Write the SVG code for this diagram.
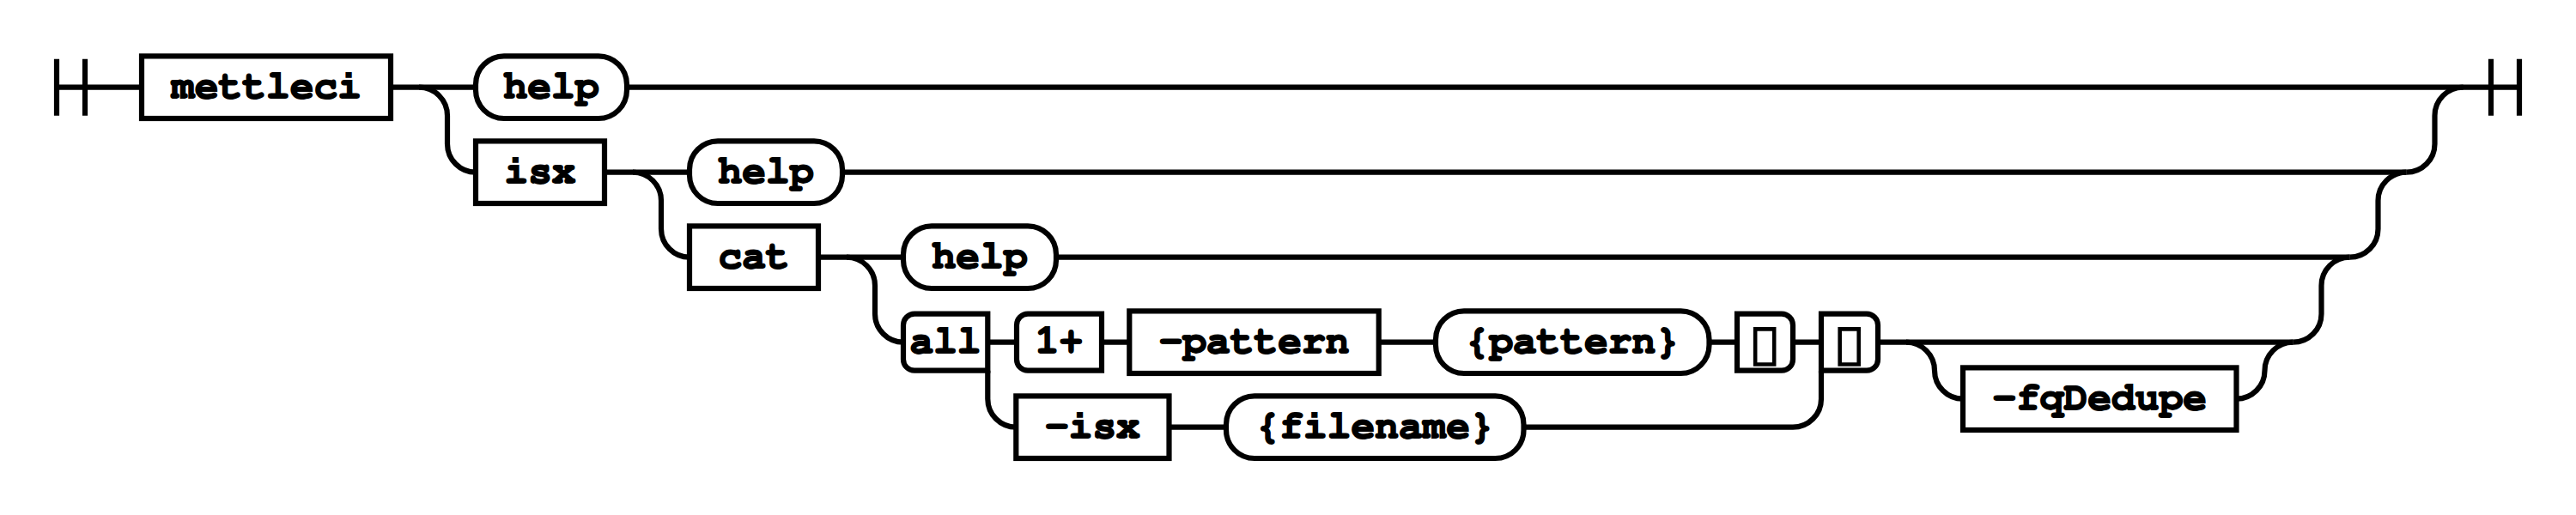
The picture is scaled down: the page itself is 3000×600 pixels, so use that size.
<svg xmlns="http://www.w3.org/2000/svg" width="3000" height="600" viewBox="0 0 3000 600">
<style>
.c{fill:none;stroke:#000;stroke-width:6.2}
.n rect,.n path{fill:#fff;stroke:#000;stroke-width:6.2}
.n text{font-family:"FreeMono","Liberation Mono",monospace;font-weight:bold;font-size:46.2px;text-anchor:middle;fill:#000;stroke:#000;stroke-width:1.8}
.n text.g{font-family:"DejaVu Sans",sans-serif;font-size:50px}
</style>
<rect width="3000" height="600" fill="#fff"/>
<g id="connectors" class="c">
<path d="M66 68.7V134.7M99 68.7V134.7M66 101.7H165"/>
<path d="M2901 68.7V134.7M2934 68.7V134.7M730 101.7H2934"/>
<path d="M455 101.7H554"/>
<path d="M488 101.7A33 33 0 0 1 521 134.7V167.7A33 33 0 0 0 554 200.7"/>
<path d="M704 200.7H803M981 200.7H2802.5"/>
<path d="M737 200.7A33 33 0 0 1 770 233.7V266.7A33 33 0 0 0 803 299.7"/>
<path d="M953 299.7H1052M1230 299.7H2736.5"/>
<path d="M986 299.7A33 33 0 0 1 1019 332.7V365.7A33 33 0 0 0 1052 398.7"/>
<path d="M1150.3 398.7H1184M1283 398.7H1315.3M1605.7 398.7H1672M1990.5 398.7H2023M2088 398.7H2121M2187 398.7H2670.5"/>
<path d="M1150.3 431.7V464.7A33 33 0 0 0 1183.3 497.7"/>
<path d="M1361.5 497.7H1428M1774.5 497.7H2088A33 33 0 0 0 2121 464.7V431.7"/>
<path d="M2220 398.7A33 33 0 0 1 2253 431.7A33 33 0 0 0 2286 464.7"/>
<path d="M2604.5 464.7A33 33 0 0 0 2637.5 431.7A33 33 0 0 1 2670.5 398.7"/>
<path d="M2670.5 398.7A33 33 0 0 0 2703.5 365.7V332.7A33 33 0 0 1 2736.5 299.7"/>
<path d="M2736.5 299.7A33 33 0 0 0 2769.5 266.7V233.7A33 33 0 0 1 2802.5 200.7"/>
<path d="M2802.5 200.7A33 33 0 0 0 2835.5 167.7V134.7A33 33 0 0 1 2868.5 101.7"/>
</g>
<g id="mettleci" class="n"><rect x="165" y="65.4" width="290" height="72.6"/><text x="310" y="114.2">mettleci</text></g>
<g id="help0" class="n"><rect x="554" y="65.4" width="176" height="72.6" rx="33" ry="33"/><text x="642" y="114.2">help</text></g>
<g id="isx" class="n"><rect x="554" y="164.4" width="150" height="72.6"/><text x="629" y="213.2">isx</text></g>
<g id="help1" class="n"><rect x="803" y="164.4" width="178" height="72.6" rx="33" ry="33"/><text x="892" y="213.2">help</text></g>
<g id="cat" class="n"><rect x="803" y="263.4" width="150" height="72.6"/><text x="878" y="312.2">cat</text></g>
<g id="help2" class="n"><rect x="1052" y="263.4" width="178" height="72.6" rx="33" ry="33"/><text x="1141" y="312.2">help</text></g>
<g id="all" class="n"><path d="M1150.3 365.7H1065A13 13 0 0 0 1052 378.7V418.7A13 13 0 0 0 1065 431.7H1150.3Z"/><text x="1101" y="411.2">all</text></g>
<g id="oneplus" class="n"><path d="M1283 365.7H1197A13 13 0 0 0 1184 378.7V418.7A13 13 0 0 0 1197 431.7H1283Z"/><text x="1233.5" y="411.2">1+</text></g>
<g id="pattern-opt" class="n"><rect x="1315.3" y="362.4" width="290.4" height="72.6"/><text x="1460.5" y="411.2">-pattern</text></g>
<g id="pattern-val" class="n"><rect x="1672" y="362.4" width="318.5" height="72.6" rx="33" ry="33"/><text x="1831.2" y="411.2">{pattern}</text></g>
<g id="close1" class="n"><path d="M2023 365.7H2075A13 13 0 0 1 2088 378.7V418.7A13 13 0 0 1 2075 431.7H2023Z"/><text class="g" x="2055.5" y="417">&#xE000;</text></g>
<g id="close2" class="n"><path d="M2121 365.7H2174A13 13 0 0 1 2187 378.7V418.7A13 13 0 0 1 2174 431.7H2121Z"/><text class="g" x="2154" y="417">&#xE000;</text></g>
<g id="isx-opt" class="n"><rect x="1183.3" y="461.4" width="178.2" height="72.6"/><text x="1272.4" y="510.2">-isx</text></g>
<g id="filename" class="n"><rect x="1428" y="461.4" width="346.5" height="72.6" rx="33" ry="33"/><text x="1601.2" y="510.2">{filename}</text></g>
<g id="fqDedupe" class="n"><rect x="2286" y="428.4" width="318.5" height="72.6"/><text x="2445.2" y="477.2">-fqDedupe</text></g>
</svg>
